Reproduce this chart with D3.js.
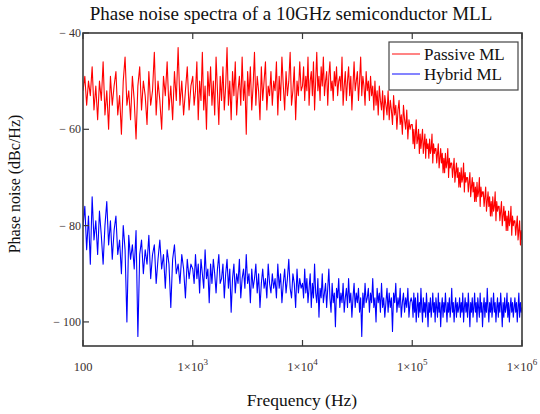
<!DOCTYPE html>
<html><head><meta charset="utf-8">
<script src="https://cdn.jsdelivr.net/npm/d3@7"></script>
<style>html,body{margin:0;padding:0;background:#fff;}svg{display:block;}</style>
</head><body>
<svg id="chart" width="540" height="414"></svg>
<script>
const title = "Phase noise spectra of a 10GHz semiconductor MLL";
const xLabel = "Frequency (Hz)";
const yLabel = "Phase noise (dBc/Hz)";
const seriesNames = ["Passive ML", "Hybrid ML"];
const seriesColors = ["#ff0000", "#0000ff"];
const xDomain = [100, 1e6];
const yDomain = [-105, -40];
const xTicks = [100, 1e3, 1e4, 1e5, 1e6];
const xTickLabels = ["100", "1×10|3", "1×10|4", "1×10|5", "1×10|6"];
const yTicks = [-40, -60, -80, -100];
const decadeStarts = [100, 1e3, 1e4, 1e5];

// Passive ML (dBc/Hz), one array per decade, samples log spaced within the decade
const passive100 = [
-52,-49,-55,-50,-53,-47,-56,-51,-58,-50,-54,-46,-57,-52,-60,-49,-55,-51,-48,-57,
-53,-61,-50,-45,-55,-52,-58,-49,-54,-62,-51,-47,-56,-50,-53,-59,-48,-55,-52,-44,
-57,-50,-54,-60,-49,-53,-46,-56,-51,-58,-48,-54,-43,-55,-50,-57,-52,-47,-56,-51];
const passive1k = [
-49,-55,-52,-46,-58,-50,-54,-44,-56,-51,-60,-48,-53,-47,-55,-50,-57,-45,-52,-59,
-49,-54,-47,-56,-51,-43,-55,-50,-58,-48,-53,-46,-57,-52,-49,-55,-45,-54,-50,-61,
-48,-53,-47,-56,-51,-44,-55,-49,-52,-58,-47,-54,-50,-46,-56,-51,-53,-48,-55,-50,
-52,-46,-57,-49,-54,-45,-51,-56,-48,-53,-50,-44,-55,-52,-47,-58,-50,-53,-46,-52];
const passive10k = [
-51,-47,-54,-49,-52,-45,-55,-50,-48,-53,-46,-56,-50,-44,-52,-49,-54,-47,-51,-45,
-53,-50,-48,-55,-49,-46,-52,-50,-54,-48,-51,-47,-53,-50,-49,-52,-45,-55,-51,-48,
-54,-50,-47,-53,-49,-56,-51,-46,-52,-50,-48,-54,-50,-45,-53,-49,-51,-55,-48,-52,
-50,-54,-49,-53,-51,-56,-50,-55,-52,-57,-51,-54,-56,-52,-58,-53,-55,-57,-52,-58,
-54,-56,-59,-53,-57,-55,-60,-56,-54,-59,-57,-61,-55,-58,-60,-56,-62,-58,-60,-59];
const passive100k = [
-59,-63,-60,-64,-61,-58,-63,-62,-60,-65,-61,-64,-62,-60,-65,-63,-61,-66,-62,-64,
-63,-66,-62,-65,-64,-61,-67,-63,-65,-64,-64,-67,-65,-63,-68,-66,-64,-67,-65,-69,
-66,-69,-65,-68,-67,-64,-70,-66,-68,-67,-67,-70,-68,-66,-71,-69,-67,-70,-68,-72,
-69,-72,-68,-71,-70,-67,-73,-69,-71,-70,-70,-73,-71,-69,-74,-72,-70,-73,-71,-75,
-72,-75,-71,-74,-73,-70,-76,-72,-74,-73,-73,-76,-74,-72,-77,-75,-73,-76,-74,-78,
-75,-78,-74,-77,-76,-73,-79,-75,-77,-76,-76,-79,-77,-75,-80,-78,-76,-79,-77,-81,
-78,-81,-77,-80,-79,-76,-82,-78,-80,-79,-79,-82,-80,-78,-83,-81,-79,-84,-81,-83];

// Hybrid ML (dBc/Hz)
const hybrid100 = [
-80,-76,-85,-78,-88,-74,-83,-79,-86,-77,-82,-88,-80,-75,-84,-79,-87,-81,-78,-86,
-83,-90,-80,-85,-100,-82,-87,-84,-89,-81,-103,-86,-83,-90,-85,-88,-82,-91,-86,-84,
-92,-87,-83,-89,-86,-93,-85,-88,-97,-87,-84,-90,-88,-92,-86,-89,-95,-87,-91,-88];
const hybrid1k = [
-89,-92,-86,-91,-88,-94,-87,-90,-93,-85,-91,-89,-96,-88,-92,-87,-90,-94,-89,-86,
-92,-91,-88,-95,-90,-87,-93,-89,-98,-91,-88,-94,-90,-92,-87,-95,-91,-89,-93,-86,
-92,-90,-96,-89,-93,-91,-88,-94,-90,-97,-92,-89,-93,-91,-95,-88,-92,-94,-90,-93,
-91,-95,-88,-93,-90,-96,-92,-89,-94,-91,-87,-93,-95,-90,-92,-97,-89,-94,-91,-93];
const hybrid10k = [
-92,-95,-89,-94,-91,-96,-93,-90,-97,-92,-95,-88,-94,-96,-91,-99,-93,-95,-90,-96,
-94,-92,-97,-93,-89,-95,-98,-92,-96,-94,-101,-93,-95,-91,-97,-94,-96,-92,-98,-95,
-93,-97,-91,-96,-94,-99,-95,-92,-97,-94,-96,-93,-98,-95,-103,-94,-97,-92,-96,-95,
-93,-98,-94,-96,-91,-97,-95,-100,-93,-96,-94,-98,-92,-97,-95,-99,-96,-93,-98,-94,
-97,-95,-102,-94,-96,-92,-98,-95,-97,-93,-99,-96,-94,-98,-95,-97,-93,-99,-96,-95];
const hybrid100k = [
-96,-99,-94,-98,-95,-100,-97,-94,-99,-96,-98,-93,-97,-100,-95,-98,-96,-99,-94,-97,
-101,-96,-98,-95,-99,-97,-94,-98,-96,-100,-95,-97,-99,-94,-98,-96,-101,-97,-95,-99,
-96,-98,-94,-97,-100,-96,-98,-95,-99,-97,-93,-98,-96,-100,-97,-95,-99,-96,-98,-97,
-95,-99,-96,-98,-94,-100,-97,-95,-98,-96,-99,-94,-97,-101,-96,-98,-95,-99,-97,-94,
-98,-96,-100,-95,-97,-99,-94,-98,-96,-101,-97,-95,-99,-96,-98,-93,-97,-100,-96,-98,
-95,-99,-97,-94,-98,-96,-100,-97,-95,-99,-96,-98,-94,-97,-101,-96,-99,-95,-98,-97,
-94,-99,-96,-100,-97,-95,-98,-96,-99,-97,-95,-98,-96,-100,-97,-94,-99,-96,-98,-97];

const passiveDecades = [passive100, passive1k, passive10k, passive100k];
const hybridDecades = [hybrid100, hybrid1k, hybrid10k, hybrid100k];

const svg = d3.select("#chart");
const margin = {left: 83, right: 18, top: 33, bottom: 68};
const W = 540, H = 414;
const x = d3.scaleLog().domain(xDomain).range([margin.left, W - margin.right]);
const y = d3.scaleLinear().domain(yDomain).range([H - margin.bottom, margin.top]);
const serif = "'Liberation Serif','Times New Roman',serif";

// sampling grid within each decade (log spaced), last decade includes its end point
function toPoints(decades) {
  const pts = [];
  decades.forEach((vals, d) => {
    const lo = Math.log10(decadeStarts[d]);
    const last = d === decades.length - 1;
    const n = vals.length;
    vals.forEach((v, i) => {
      const frac = last ? i / (n - 1) : i / n;
      pts.push([Math.pow(10, lo + frac), v]);
    });
  });
  return pts;
}

const line = d3.line().x(d => x(d[0])).y(d => y(d[1]));
svg.append("clipPath").attr("id", "clip").append("rect")
  .attr("x", x.range()[0]).attr("y", y.range()[1])
  .attr("width", x.range()[1] - x.range()[0]).attr("height", y.range()[0] - y.range()[1]);

[passiveDecades, hybridDecades].forEach((dec, k) => {
  svg.append("path").attr("clip-path", "url(#clip)")
    .datum(toPoints(dec))
    .attr("d", line).attr("fill", "none")
    .attr("stroke", seriesColors[k]).attr("stroke-width", 1.1)
    .attr("stroke-linejoin", "round");
});

// frame
svg.append("rect").attr("x", x.range()[0]).attr("y", y.range()[1])
  .attr("width", x.range()[1] - x.range()[0]).attr("height", y.range()[0] - y.range()[1])
  .attr("fill", "none").attr("stroke", "#3a3a3a").attr("stroke-width", 1.6);

// x ticks (inward, bottom and top)
const xt = svg.append("g");
xTicks.forEach((t, i) => {
  const px = x(t);
  xt.append("line").attr("x1", px).attr("x2", px).attr("y1", y.range()[0]).attr("y2", y.range()[0] - 6).attr("stroke", "#3a3a3a").attr("stroke-width", 1.2);
  xt.append("line").attr("x1", px).attr("x2", px).attr("y1", y.range()[1]).attr("y2", y.range()[1] + 6).attr("stroke", "#3a3a3a").attr("stroke-width", 1.2);
  const parts = xTickLabels[i].split("|");
  const tx = xt.append("text").attr("x", px).attr("y", 371).attr("text-anchor", "middle")
    .attr("font-family", serif).attr("font-size", 12.5).attr("fill", "#3a3030");
  tx.append("tspan").text(parts[0]);
  if (parts[1]) tx.append("tspan").attr("dy", -6).attr("font-size", 9).text(parts[1]);
});

// y ticks (inward, left)
const yt = svg.append("g");
yTicks.forEach(t => {
  const py = y(t);
  yt.append("line").attr("x1", x.range()[0]).attr("x2", x.range()[0] + 6).attr("y1", py).attr("y2", py).attr("stroke", "#3a3a3a").attr("stroke-width", 1.2);
  yt.append("text").attr("x", x.range()[0] - 2).attr("y", py + 4).attr("text-anchor", "end")
    .attr("font-family", serif).attr("font-size", 12).attr("fill", "#3a3030")
    .text("\u2212 " + Math.abs(t));
});

// title & axis labels
svg.append("text").attr("x", 291).attr("y", 20).attr("text-anchor", "middle")
  .attr("font-family", serif).attr("font-size", 19).attr("fill", "#111").text(title);
svg.append("text").attr("x", 302).attr("y", 406).attr("text-anchor", "middle")
  .attr("font-family", serif).attr("font-size", 17.5).attr("fill", "#111").text(xLabel);
svg.append("text").attr("transform", "translate(20,184) rotate(-90)").attr("text-anchor", "middle")
  .attr("font-family", serif).attr("font-size", 16).attr("fill", "#111").text(yLabel);

// legend
const lg = svg.append("g");
lg.append("rect").attr("x", 389).attr("y", 42).attr("width", 129).attr("height", 48)
  .attr("fill", "#fff").attr("stroke", "#444").attr("stroke-width", 1.2);
seriesNames.forEach((n, i) => {
  const cy = 54 + i * 20;
  lg.append("line").attr("x1", 392).attr("x2", 420).attr("y1", cy).attr("y2", cy)
    .attr("stroke", seriesColors[i]).attr("stroke-width", 1.3).attr("stroke-opacity", 0.75);
  lg.append("text").attr("x", 424).attr("y", cy + 5.5).attr("font-family", serif)
    .attr("font-size", 17).attr("fill", "#111").text(n);
});
</script>
</body></html>
